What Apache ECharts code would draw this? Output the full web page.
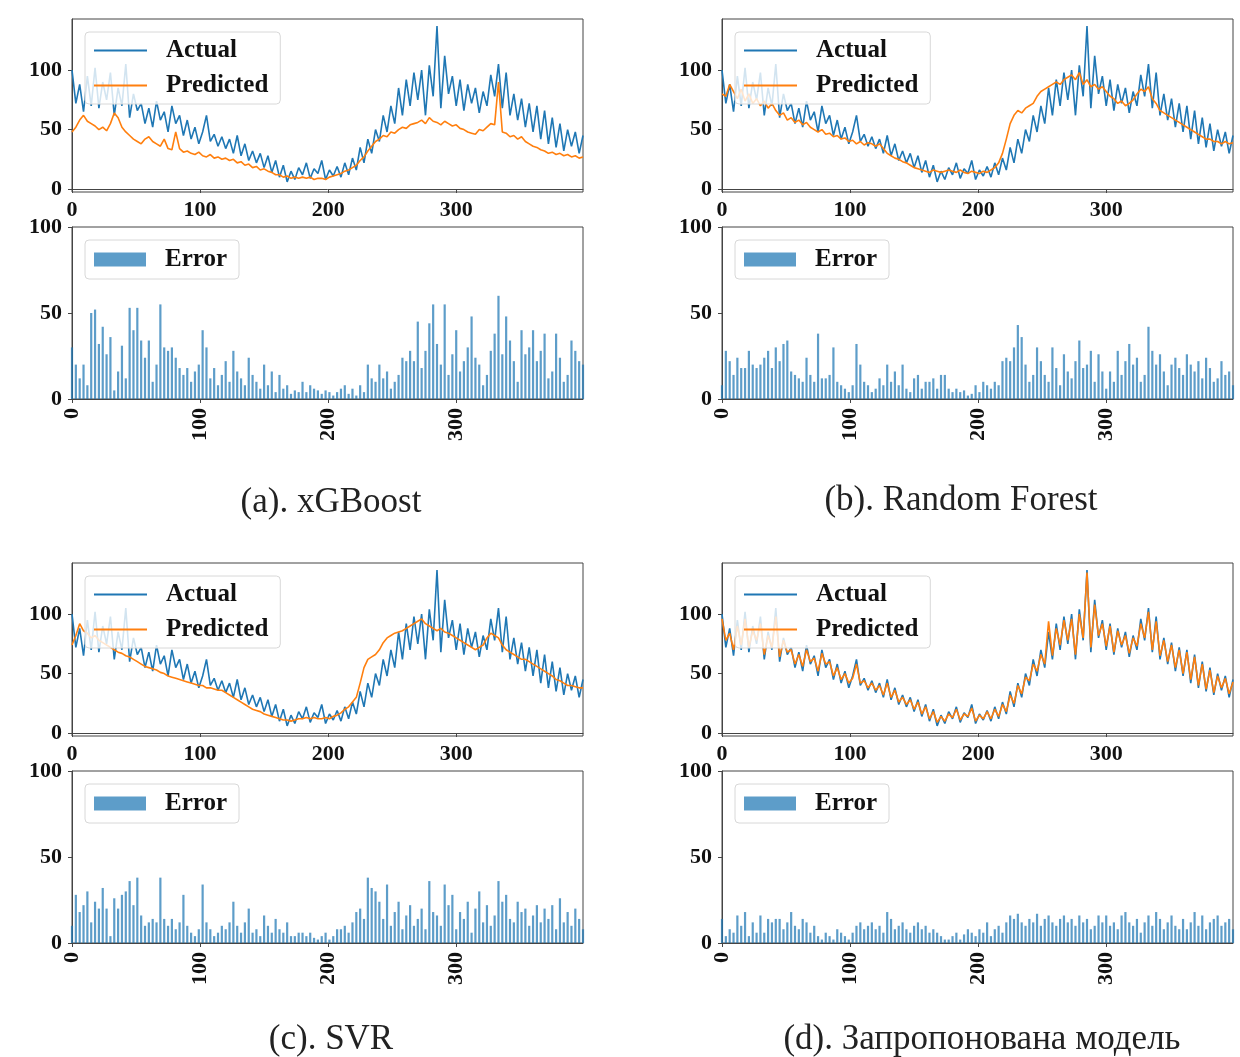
<!DOCTYPE html>
<html>
<head>
<meta charset="utf-8">
<script src="https://cdn.jsdelivr.net/npm/echarts@6/dist/echarts.min.js"></script>
<style>
html,body{margin:0;padding:0;background:#fff;}
#c{width:1240px;height:1057px;}
</style>
</head>
<body>
<div id="c"></div>
<script>
// sample spacing along the time index (0..399)
const STEP = 3;
const xTicks = [0, 100, 200, 300];
const yTicksLine = [0, 50, 100];
const yTicksErr = [0, 50, 100];
const panelTitles = ['(a). xGBoost', '(b). Random Forest', '(c). SVR', '(d). Запропонована модель'];
const legendLine = ['Actual', 'Predicted'];
const legendErr = ['Error'];

const actual = [
100,72,88,65,95,70,102,68,90,75,
98,62,85,70,105,60,80,66,72,55,
68,52,74,58,65,48,70,55,62,45,
58,42,52,38,48,62,40,46,36,44,
34,42,30,45,28,38,24,32,22,30,
18,28,14,24,10,20,6,15,8,18,
12,22,9,17,13,24,8,16,11,19,
10,22,12,26,16,35,22,42,30,50,
40,62,48,70,55,85,62,92,70,98,
75,100,62,104,78,137,68,112,80,95,
70,92,66,88,72,85,64,82,70,96,
78,105,68,98,62,80,58,76,52,72,
48,70,42,66,38,60,35,55,32,50,
36,48,30,45];

const predXGB = [
48,52,58,62,57,55,53,50,52,49,
55,64,60,52,48,45,42,40,38,42,
44,40,38,36,42,34,33,48,34,31,
32,30,29,31,28,27,29,26,27,25,
26,24,25,22,23,20,21,18,19,16,
17,15,14,12,12,10,11,9,10,9,
10,9,10,8,9,9,8,10,11,12,
13,15,16,18,20,24,27,32,36,40,
42,45,44,48,47,50,52,51,54,55,
56,58,55,60,57,56,54,57,55,53,
54,51,50,48,47,46,50,49,52,55,
54,90,48,47,44,45,42,44,40,38,
36,35,33,32,30,31,29,30,28,29,
27,28,26,27];

const predRF = [
80,78,88,82,76,84,74,80,72,76,
70,74,68,72,66,62,64,58,60,56,
58,54,56,52,50,48,50,46,47,44,
45,42,43,40,41,38,40,37,39,38,
36,38,34,30,28,26,25,23,22,20,
18,17,16,15,14,16,15,14,15,16,
15,14,16,14,13,15,14,13,15,14,
16,18,22,30,42,55,62,66,64,68,
70,72,78,82,84,86,88,90,88,92,
94,96,92,98,88,92,86,88,84,86,
82,78,76,72,74,70,72,75,80,84,
82,86,76,72,66,64,62,60,58,56,
54,52,50,48,46,44,42,42,40,40,
38,40,38,39];

const predSVR = [
74,82,92,86,84,80,82,78,76,74,
72,70,68,67,65,64,62,60,58,56,
55,54,53,51,50,48,47,46,45,44,
43,42,41,40,40,38,38,37,36,36,
34,32,30,28,26,24,22,20,19,18,
16,15,14,13,12,11,11,10,11,12,
12,13,12,13,12,12,13,12,14,15,
17,20,22,26,30,42,55,62,64,66,
70,76,80,82,84,85,86,88,90,92,
94,96,92,90,88,86,88,85,84,82,
80,78,76,74,72,70,72,74,80,84,
82,80,74,70,68,66,64,62,62,60,
58,56,54,52,50,48,45,44,42,40,
40,39,38,38];

const predOurs = [
96,78,84,70,90,74,96,72,86,78,
92,66,82,72,98,64,78,68,70,58,
66,56,70,60,63,52,67,58,60,48,
55,45,50,42,46,58,42,44,38,42,
36,40,32,42,30,36,26,30,24,28,
20,26,16,22,12,18,9,14,10,16,
13,20,11,16,14,21,10,15,12,18,
12,20,14,24,18,32,25,40,33,47,
44,58,52,66,58,94,65,88,74,95,
78,96,66,100,80,135,72,108,82,92,
73,90,68,86,74,82,67,80,73,92,
80,102,70,94,65,78,60,74,55,70,
50,68,45,64,40,58,37,53,34,48,
38,46,33,43];

const errXGB = [
30,20,12,20,8,50,52,32,42,26,
36,5,16,31,12,53,40,53,34,24,
34,10,20,55,30,28,30,24,18,14,
18,10,16,20,40,30,12,18,8,14,
22,10,28,16,12,8,24,14,10,6,
20,8,16,4,14,6,8,3,5,4,
10,4,8,6,5,3,5,4,2,4,
6,8,3,6,2,8,4,20,12,10,
20,12,16,6,10,14,24,22,28,22,
45,18,28,44,55,32,20,55,14,26,
40,16,22,30,48,24,20,8,14,28,
38,60,26,48,34,22,10,40,26,30,
40,22,28,38,12,16,38,24,10,14,
34,28,22,20];

const errRF = [
8,28,22,14,24,18,18,28,20,18,
20,24,28,18,30,22,32,34,16,14,
12,10,24,14,10,38,12,12,14,30,
10,8,6,4,8,32,20,10,8,4,
6,12,8,20,10,16,8,20,6,4,
12,14,6,10,10,12,6,14,14,6,
4,6,4,5,2,3,8,4,10,8,
6,10,8,22,24,22,30,43,36,20,
10,14,30,22,14,10,30,18,8,26,
16,12,22,34,18,20,28,10,26,16,
6,16,10,28,14,22,32,20,24,10,
14,42,28,20,26,16,8,20,24,18,
14,26,20,16,22,12,24,18,10,12,
22,14,16,8];

const errSVR = [
10,28,18,22,30,12,24,20,32,20,
4,26,20,28,30,36,22,38,16,10,
12,14,12,38,14,10,14,8,12,28,
10,6,4,8,34,12,8,4,6,10,
8,12,24,10,6,12,20,6,8,4,
16,10,6,14,8,6,12,4,4,6,
6,4,6,3,2,4,6,2,4,8,
8,10,6,12,18,20,14,38,32,30,
24,14,34,10,18,24,8,16,22,10,
14,20,8,36,18,16,10,34,22,28,
8,18,14,24,6,20,30,12,22,10,
16,36,24,28,14,12,24,18,20,10,
16,22,12,20,14,22,8,26,12,18,
10,20,14,8];

const errOurs = [
14,4,8,6,16,10,18,4,12,6,
16,6,14,12,14,14,8,12,18,10,
8,14,12,6,10,4,2,6,4,2,
8,6,4,2,6,10,12,8,10,12,
8,10,6,18,14,8,10,12,8,6,
10,12,8,10,6,8,6,4,2,2,
4,6,2,5,8,6,4,8,6,12,
4,8,10,6,12,16,14,17,12,10,
14,12,17,10,14,16,12,10,14,16,
12,14,10,16,12,14,8,10,16,12,
16,10,12,8,16,18,12,10,14,6,
12,16,10,18,14,8,12,16,10,8,
14,8,12,18,10,16,8,12,14,16,
10,12,14,8];

const preds = [predXGB, predRF, predSVR, predOurs];
const errs = [errXGB, errRF, errSVR, errOurs];

const BLUE = '#1f77b4', ORANGE = '#ff7f0e';
const FONT = '"Liberation Serif", "Times New Roman", serif';
const toXY = arr => arr.map((v, i) => [i * STEP, v]);

const panelLeft = [72, 722, 72, 722];
const panelTop = [19, 19, 563, 563];
const W = 511, HL = 173, HE = 172, GAP_E = 208;

const grids = [], xAxes = [], yAxes = [], series = [], legends = [];

const axisLabelBase = {fontFamily: FONT, fontWeight: 'bold', fontSize: 22, color: '#111'};
const axisLineBase = {show: true, lineStyle: {color: '#444', width: 1}};

for (let p = 0; p < 4; p++) {
  const L = panelLeft[p], T = panelTop[p];
  grids.push({left: L, top: T, width: W, height: HL, show: true, borderColor: '#444', borderWidth: 1, backgroundColor: 'transparent'});
  grids.push({left: L, top: T + GAP_E, width: W, height: HE, show: true, borderColor: '#444', borderWidth: 1, backgroundColor: 'transparent'});
  const gL = 2 * p, gE = 2 * p + 1;

  xAxes.push({type: 'value', gridIndex: gL, min: 0, max: 399, splitLine: {show: false},
    axisLine: axisLineBase,
    axisTick: {show: true, length: 4, customValues: xTicks, lineStyle: {color: '#444'}},
    axisLabel: Object.assign({customValues: xTicks, margin: 7}, axisLabelBase)});
  yAxes.push({type: 'value', gridIndex: gL, min: -2.5, max: 143, splitLine: {show: false},
    axisLine: axisLineBase,
    axisTick: {show: true, length: 4, customValues: yTicksLine, lineStyle: {color: '#444'}},
    axisLabel: Object.assign({customValues: yTicksLine, margin: 10}, axisLabelBase)});

  xAxes.push({type: 'value', gridIndex: gE, min: 0, max: 399, splitLine: {show: false},
    axisLine: axisLineBase,
    axisTick: {show: true, length: 4, customValues: xTicks, lineStyle: {color: '#444'}},
    axisLabel: Object.assign({customValues: xTicks, margin: 9, rotate: 90}, axisLabelBase)});
  yAxes.push({type: 'value', gridIndex: gE, min: 0, max: 100, splitLine: {show: false},
    axisLine: axisLineBase,
    axisTick: {show: true, length: 4, customValues: yTicksErr, lineStyle: {color: '#444'}},
    axisLabel: Object.assign({customValues: yTicksErr, margin: 10}, axisLabelBase)});

  series.push({type: 'line', name: 'Actual', xAxisIndex: gL, yAxisIndex: gL, data: toXY(actual),
    showSymbol: false, symbol: 'none', lineStyle: {color: BLUE, width: 1.6}, itemStyle: {color: BLUE}, z: 2});
  series.push({type: 'line', name: 'Predicted', xAxisIndex: gL, yAxisIndex: gL, data: toXY(preds[p]),
    showSymbol: false, symbol: 'none', lineStyle: {color: ORANGE, width: 1.6}, itemStyle: {color: ORANGE}, z: 3});
  series.push({type: 'bar', name: 'Error', xAxisIndex: gE, yAxisIndex: gE, data: toXY(errs[p]),
    barWidth: 2.2, itemStyle: {color: 'rgba(31,119,180,0.72)'}, z: 2});

  legends.push({data: legendLine, left: L + 13, top: T + 13, orient: 'vertical', icon: 'rect',
    itemWidth: 53, itemHeight: 2, itemGap: 10, padding: [6, 12, 6, 9],
    backgroundColor: 'rgba(255,255,255,0.8)', borderColor: '#d8d8d8', borderWidth: 1, borderRadius: 4,
    selectedMode: false,
    textStyle: {fontFamily: FONT, fontWeight: 'bold', fontSize: 25, color: '#111', padding: [0, 0, 0, 14]}});
  legends.push({data: legendErr, left: L + 13, top: T + GAP_E + 13, orient: 'vertical', icon: 'rect',
    itemWidth: 52, itemHeight: 14, itemGap: 10, padding: [7, 12, 7, 9],
    backgroundColor: 'rgba(255,255,255,0.8)', borderColor: '#d8d8d8', borderWidth: 1, borderRadius: 4,
    selectedMode: false,
    textStyle: {fontFamily: FONT, fontWeight: 'bold', fontSize: 25, color: '#111', padding: [0, 0, 0, 14]}});
}

const capX = [331, 961, 331, 982];
const capY = [503, 501, 1040, 1040];
const graphics = panelTitles.map((t, p) => ({type: 'text', x: capX[p], y: capY[p],
  style: {text: t, textAlign: 'center', textVerticalAlign: 'middle', font: '35px ' + FONT, fill: '#222'}}));

const chart = echarts.init(document.getElementById('c'), null, {renderer: 'canvas'});
chart.setOption({
  animation: false,
  backgroundColor: '#fff',
  grid: grids, xAxis: xAxes, yAxis: yAxes, series: series, legend: legends,
  graphic: graphics
});
</script>
</body>
</html>
